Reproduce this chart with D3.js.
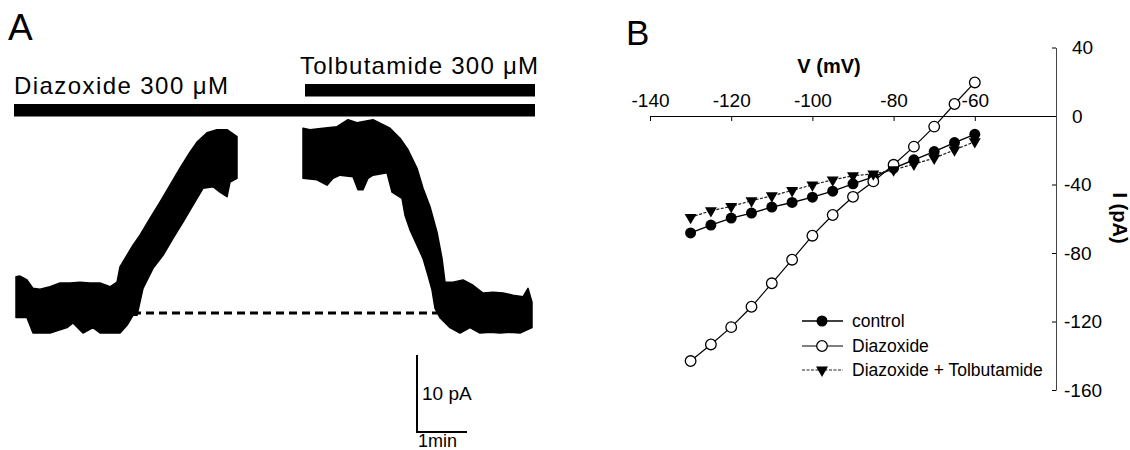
<!DOCTYPE html>
<html>
<head>
<meta charset="utf-8">
<script src="https://cdn.jsdelivr.net/npm/d3@7"></script>
<style>
  body { margin: 0; background: #fff; }
  svg text { font-family: "Liberation Sans", Arial, Helvetica, sans-serif; fill: #000; }
</style>
</head>
<body>
<svg id="fig" width="1130" height="450"></svg>
<script>
// ---- panel A data ----
// drug application bars (time in min)
var drugNames = ["Diazoxide 300 μM", "Tolbutamide 300 μM"];
var drugStart = [-0.04, 5.78];
var drugEnd = [10.38, 10.38];

// envelope of the current trace, [time (min), current (pA) rel. to baseline]
var trace1Upper = [[0, 4.7], [0.08, 4.8], [0.22, 4.3], [0.34, 3.2], [0.48, 3.1], [0.68, 3.4], [0.88, 3.9],
  [1.08, 3.9], [1.28, 4.0], [1.48, 3.9], [1.68, 3.9], [1.88, 3.4], [2.02, 4.0], [2.08, 6.0], [2.22, 7.5],
  [2.34, 8.8], [2.48, 10.1], [2.68, 12.3], [2.88, 14.4], [3.08, 16.6], [3.28, 18.8], [3.48, 20.9],
  [3.62, 22.2], [3.82, 23.4], [4.02, 23.8], [4.22, 23.8], [4.42, 22.9]];
var trace1Lower = [[0, -0.6], [0.22, -0.6], [0.34, -2.6], [0.68, -2.6], [1.02, -1.9], [1.14, -1.3],
  [1.34, -2.6], [1.54, -1.9], [1.68, -2.6], [1.88, -2.6], [2.08, -2.6], [2.22, -1.6], [2.34, -0.3],
  [2.42, -0.3], [2.54, 3.2], [2.74, 5.8], [2.94, 7.5], [3.14, 9.7], [3.34, 11.8], [3.54, 14.0],
  [3.74, 16.2], [3.94, 16.4], [4.08, 15.7], [4.22, 15.1], [4.28, 17.0], [4.42, 17.5]];
var trace2Upper = [[5.74, 24.0], [5.88, 23.8], [6.14, 24.0], [6.42, 24.2], [6.64, 25.1], [6.82, 24.7],
  [7.14, 25.1], [7.48, 24.0], [7.68, 22.7], [7.84, 21.2], [8.02, 18.8], [8.14, 16.2], [8.28, 13.8],
  [8.42, 10.5], [8.52, 7.1], [8.58, 4.0], [8.74, 4.0], [8.94, 4.3], [9.14, 3.6], [9.34, 2.6],
  [9.54, 2.7], [9.74, 2.6], [9.94, 2.3], [10.14, 2.1], [10.24, 3.2], [10.32, 1.4]];
var trace2Lower = [[5.74, 17.5], [6.02, 17.3], [6.22, 16.6], [6.34, 17.5], [6.48, 17.9], [6.74, 17.7],
  [6.84, 16.0], [6.94, 16.0], [7.04, 17.5], [7.14, 17.9], [7.42, 18.2], [7.52, 15.7], [7.72, 14.9],
  [7.78, 12.7], [7.88, 10.8], [8.02, 8.8], [8.14, 7.1], [8.24, 4.9], [8.32, 3.0], [8.38, 0.6],
  [8.48, -0.6], [8.68, -1.9], [8.88, -2.6], [9.08, -1.9], [9.28, -2.6], [9.48, -2.5], [9.68, -2.6],
  [9.88, -2.5], [10.08, -2.6], [10.32, -1.9]];
var baselineSpan = [2.08, 8.48];
var scaleBarTime = 1;     // min
var scaleBarCurrent = 10; // pA

// ---- panel B data ----
var voltages = [-130, -125, -120, -115, -110, -105, -100, -95, -90, -85, -80, -75, -70, -65, -60];
var control = [-68.3, -63.7, -59.6, -56.7, -53.2, -50.5, -47.4, -43.9, -39.6, -35.5, -30.5, -25.6, -20.8, -15.5, -10.7];
var diazoxide = [-143.1, -133.4, -123.3, -111.4, -97.7, -83.9, -69.9, -57.8, -47.2, -38.2, -28.5, -17.9, -6.2, 7.0, 19.6];
var diazTolb = [-59.2, -55.3, -52.8, -49.5, -46.6, -43.5, -40.2, -37.3, -34.9, -33.8, -31.4, -28.1, -24.6, -19.8, -15.0];
var seriesNames = ["control", "Diazoxide", "Diazoxide + Tolbutamide"];
var vTicks = [-140, -120, -100, -80, -60];
var iTicks = [40, 0, -40, -80, -120, -160];

var svg = d3.select("#fig");

// ================= panel A =================
var xA = d3.scaleLinear().domain([0, 10.4]).range([16, 536]);
var yA = d3.scaleLinear().domain([0, 10]).range([313, 236]);

svg.append("text").attr("x", 8).attr("y", 40)
  .style("font-size", "37px").text("A");

// drug bars
var barY = [104, 84];
var labelPos = [[14, 94, 214], [300, 74, 238]];
drugNames.forEach(function(name, i) {
  svg.append("rect")
    .attr("x", xA(drugStart[i]))
    .attr("y", barY[i])
    .attr("width", xA(drugEnd[i]) - xA(drugStart[i]))
    .attr("height", 12.5)
    .attr("fill", "#000");
  svg.append("text")
    .attr("x", labelPos[i][0]).attr("y", labelPos[i][1])
    .attr("textLength", labelPos[i][2]).attr("lengthAdjust", "spacing")
    .style("font-size", "24px")
    .text(name);
});

// trace as filled envelope
var envLine = d3.line().x(function(d) { return xA(d[0]); }).y(function(d) { return yA(d[1]); });
[[trace1Upper, trace1Lower], [trace2Upper, trace2Lower]].forEach(function(seg) {
  var pts = seg[0].concat(seg[1].slice().reverse());
  svg.append("path")
    .attr("d", envLine(pts) + "Z")
    .attr("fill", "#000")
    .attr("stroke", "#000")
    .attr("stroke-width", 1.5)
    .attr("stroke-linejoin", "round");
});

// dashed baseline
svg.append("line")
  .attr("x1", xA(baselineSpan[0])).attr("x2", xA(baselineSpan[1]))
  .attr("y1", yA(0)).attr("y2", yA(0))
  .attr("stroke", "#000").attr("stroke-width", 3)
  .attr("stroke-dasharray", "8,5");

// scale bar
var sbX = 417, sbY = 432;
var sbW = xA(scaleBarTime) - xA(0);
var sbH = yA(0) - yA(scaleBarCurrent);
svg.append("path")
  .attr("d", "M" + sbX + "," + (sbY - sbH) + "V" + sbY + "H" + (sbX + sbW))
  .attr("fill", "none").attr("stroke", "#000").attr("stroke-width", 2);
svg.append("text").attr("x", sbX + 5).attr("y", sbY - 32)
  .style("font-size", "19px").text("10 pA");
svg.append("text").attr("x", sbX + 1).attr("y", 447)
  .style("font-size", "18px").text("1min");

// ================= panel B =================
var xB = d3.scaleLinear().domain([-140, -40]).range([650, 1056]);
var yB = d3.scaleLinear().domain([-160, 40]).range([390, 47.5]);

svg.append("text").attr("x", 626).attr("y", 45)
  .style("font-size", "35px").text("B");

var xAxis = svg.append("g")
  .attr("transform", "translate(0," + yB(0) + ")")
  .call(d3.axisTop(xB).tickValues(vTicks).tickSizeInner(-5).tickSizeOuter(0)
    .tickPadding(9).tickFormat(function(d) { return String(d); }));
xAxis.selectAll("text").style("font-size", "19px").style("font-family", null);
xAxis.select(".domain").attr("stroke", "#000");

var yAxis = svg.append("g")
  .attr("transform", "translate(" + xB(-40) + ",0)")
  .call(d3.axisRight(yB).tickValues(iTicks).tickSizeInner(-4).tickSizeOuter(0)
    .tickPadding(16).tickFormat(function(d) { return String(d); }));
yAxis.selectAll("text").style("font-size", "19px").style("font-family", null)
  .attr("x", function(d) { return d < 0 ? 8 : 16; });
yAxis.select(".domain").attr("stroke", "#444");

svg.append("text").attr("x", 829).attr("y", 73)
  .attr("text-anchor", "middle")
  .style("font-size", "20px").style("font-weight", "bold")
  .text("V (mV)");
svg.append("text")
  .attr("transform", "translate(1113,218) rotate(90)")
  .attr("text-anchor", "middle")
  .style("font-size", "20px").style("font-weight", "bold")
  .text("I (pA)");

var ivLine = d3.line().x(function(d) { return xB(d[0]); }).y(function(d) { return yB(d[1]); });
var tri = d3.symbol().type(d3.symbolTriangle).size(62);

var seriesData = [control, diazoxide, diazTolb];
var lineStyle = [
  { w: 1.4, dash: null, col: "#000" },
  { w: 1.2, dash: null, col: "#000" },
  { w: 1.2, dash: "3,1.5", col: "#222" }
];

function drawMarker(g, k, x, y) {
  if (k === 0) {
    g.append("circle").attr("cx", x).attr("cy", y).attr("r", 5.5).attr("fill", "#000");
  } else if (k === 1) {
    g.append("circle").attr("cx", x).attr("cy", y).attr("r", 5.3)
      .attr("fill", "#fff").attr("stroke", "#000").attr("stroke-width", 1.3);
  } else {
    g.append("path").attr("d", tri)
      .attr("transform", "translate(" + x + "," + y + ") rotate(180)")
      .attr("fill", "#000");
  }
}

seriesData.forEach(function(vals, k) {
  var pts = voltages.map(function(v, i) { return [v, vals[i]]; });
  var g = svg.append("g");
  g.append("path").attr("d", ivLine(pts))
    .attr("fill", "none").attr("stroke", lineStyle[k].col)
    .attr("stroke-width", lineStyle[k].w)
    .attr("stroke-dasharray", lineStyle[k].dash);
  pts.forEach(function(p) { drawMarker(g, k, xB(p[0]), yB(p[1])); });
});

// legend
var legY = [321, 346, 370];
seriesNames.forEach(function(name, k) {
  var g = svg.append("g");
  g.append("line").attr("x1", 802).attr("x2", 843)
    .attr("y1", legY[k]).attr("y2", legY[k])
    .attr("stroke", lineStyle[k].col).attr("stroke-width", lineStyle[k].w)
    .attr("stroke-dasharray", lineStyle[k].dash);
  drawMarker(g, k, 822, legY[k]);
  g.append("text").attr("x", 852).attr("y", legY[k] + 6)
    .style("font-size", "17.5px").text(name);
});
</script>
</body>
</html>
